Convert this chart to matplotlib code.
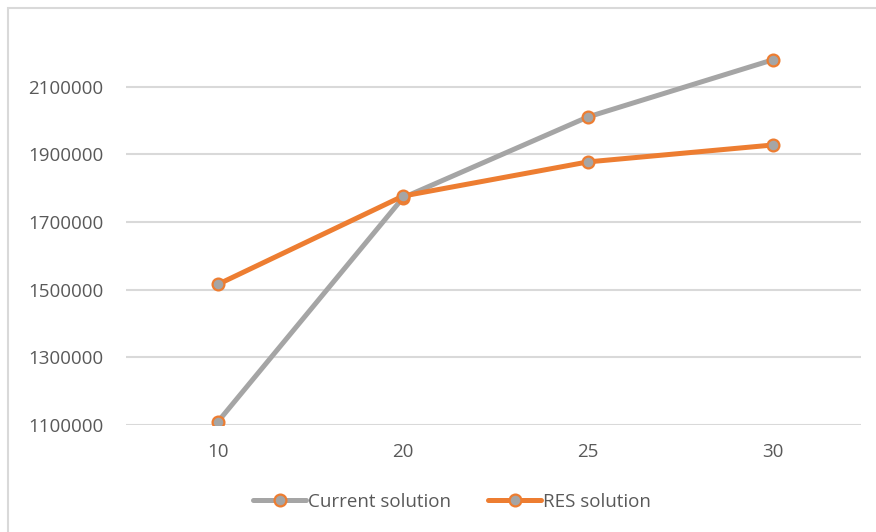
import matplotlib
matplotlib.use("Agg")
import matplotlib.pyplot as plt
from matplotlib.patches import Rectangle

categories = ["10", "20", "25", "30"]
current_solution = [1110000, 1772000, 2011000, 2180000]
res_solution = [1516000, 1777000, 1878000, 1928000]
y_ticks = [1100000, 1300000, 1500000, 1700000, 1900000, 2100000]

GRAY = "#a5a5a5"
ORANGE = "#ed7d31"
TEXT = "#595959"
GRID = "#d9d9d9"

plt.rcParams["font.family"] = ["Open Sans", "DejaVu Sans"]

W, H = 876, 532
fig = plt.figure(figsize=(W / 100, H / 100), dpi=100)

# chart frame
fig.patches.append(Rectangle((8 / W, -0.1), 1.2, (H - 8) / H + 0.1,
                             transform=fig.transFigure, fill=False,
                             edgecolor=GRID, linewidth=1.5, zorder=0))

left, right, top, bottom = 125.5, 861, 53, 425
ax = fig.add_axes([left / W, 1 - bottom / H, (right - left) / W, (bottom - top) / H])

x = list(range(len(categories)))
ax.plot(x, current_solution, color=GRAY, linewidth=3.6, marker="o", markersize=8.5,
        markerfacecolor=GRAY, markeredgecolor=ORANGE, markeredgewidth=1.6,
        label="Current solution", zorder=3, solid_capstyle="round")
ax.plot(x, res_solution, color=ORANGE, linewidth=3.6, marker="o", markersize=8.5,
        markerfacecolor=GRAY, markeredgecolor=ORANGE, markeredgewidth=1.6,
        label="RES solution", zorder=3, solid_capstyle="round")

# category slots are 185 px wide; the plot area is trimmed slightly on the right
ax.set_xlim(-0.5, len(categories) - 0.5 - 4.5 / 185)
ax.set_ylim(1100000, 2200000)
ax.set_xticks(x)
ax.set_xticklabels(categories)
ax.set_yticks(y_ticks)
ax.set_yticklabels([str(v) for v in y_ticks])
ax.tick_params(axis="both", length=0, labelsize=13.5, labelcolor=TEXT)
ax.tick_params(axis="x", pad=13)
ax.tick_params(axis="y", pad=16)
ax.yaxis.grid(True, color=GRID, linewidth=1.5)
ax.set_axisbelow(True)
for s in ax.spines.values():
    s.set_visible(False)

leg = fig.legend(loc="center", bbox_to_anchor=(452 / W, 1 - 502 / H), ncol=2,
                 frameon=False, fontsize=13.5, handlelength=2.8, columnspacing=2.0,
                 handletextpad=0.1)
for t in leg.get_texts():
    t.set_color(TEXT)

fig.savefig("out.png", dpi=100)
